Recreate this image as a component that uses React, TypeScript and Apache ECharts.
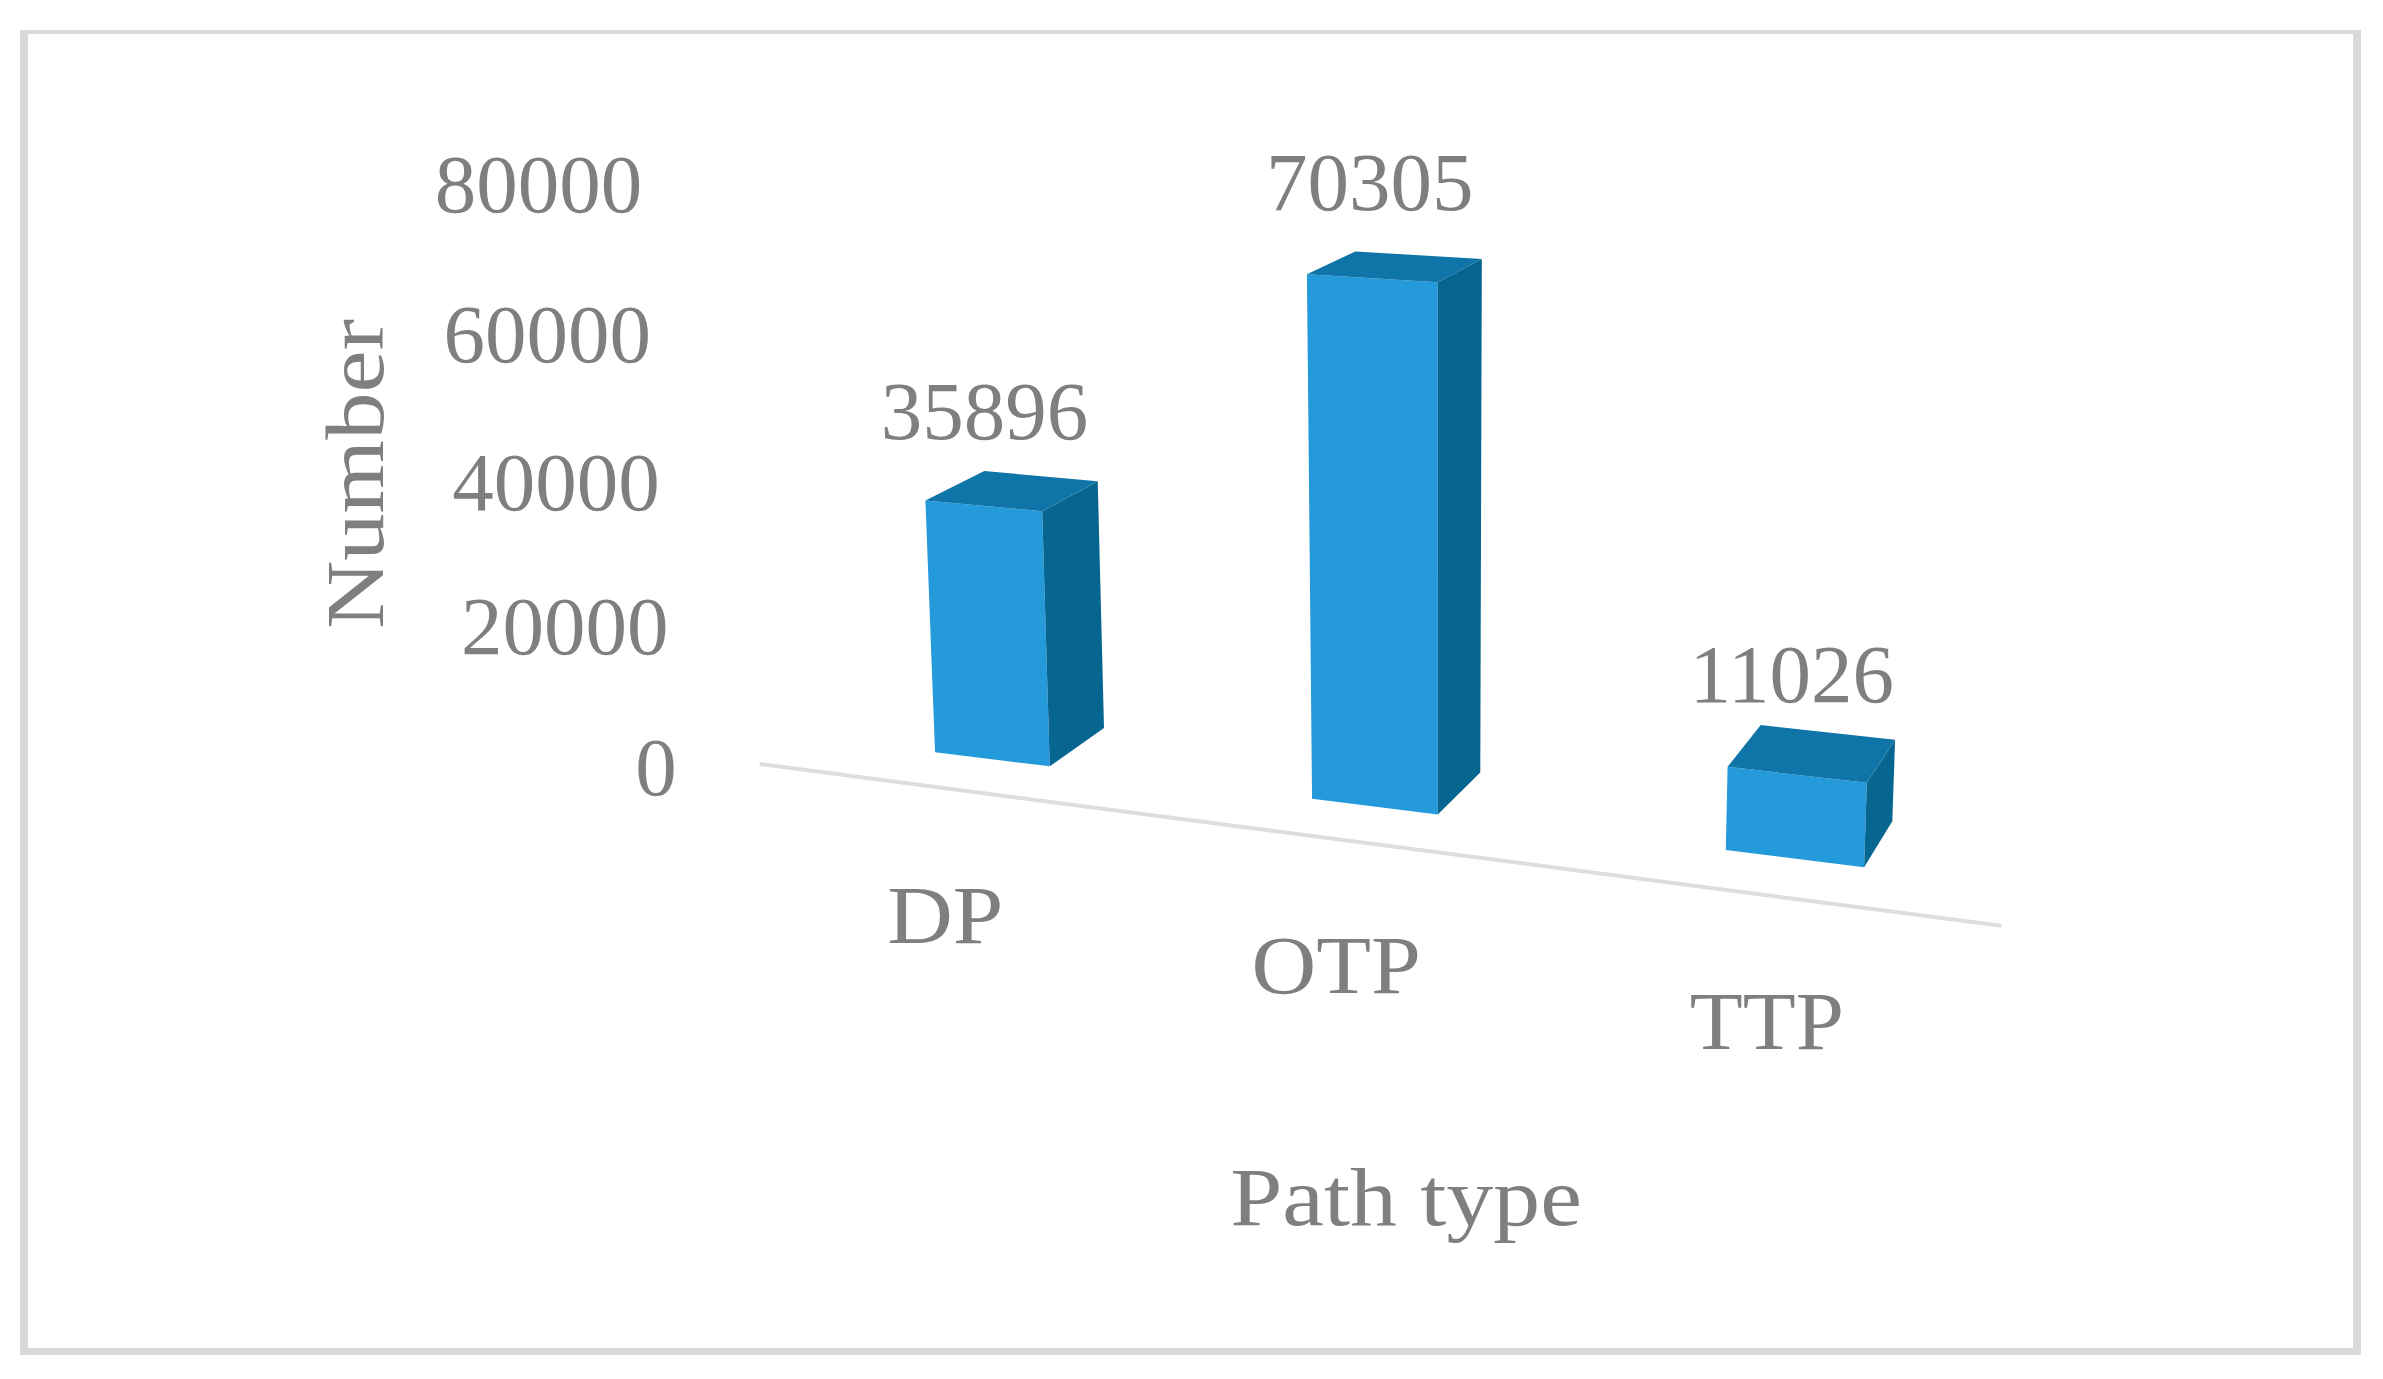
import React, { useEffect, useRef } from "react";
import * as echarts from "echarts";

const categories = ["DP", "OTP", "TTP"];
const values = [35896, 70305, 11026];
const tickValues = [0, 20000, 40000, 60000, 80000];
const tickLabels = ["0", "20000", "40000", "60000", "80000"];
const yTitle = "Number";
const xTitle = "Path type";

const GRAY = "#7f7f7f";
const FONT = "'Liberation Serif', serif";
const FS = 83;
const FRONT = "#259ADB";
const SIDE = "#07668F";
const TOP = "#0F75A8";
const LINE = "#DEDEDE";
const BORDER = "#D9D9D9";

// 3D perspective projection: t = category position, v = value / axis max, z = depth
const project = (t: number, v: number, z: number): number[] => {
  const w = 1 - 0.04464 * t - 0.042 * v + 0.036 * z;
  return [
    (321.1 * t + 992 - 60.5 * v + 93.6 * z) / w,
    (11.34 * t + 759.2 - 586 * v - 12 * z) / w,
  ];
};
const HALF = 0.157;
const FLOOR_Z = -0.72;

const toModel = (api: any, cs: any, cat: number, value: number) => {
  const p = api.coord([cat, value]);
  const band = cs.width / categories.length;
  return { t: (p[0] - cs.x) / band - 0.5, v: (cs.y + cs.height - p[1]) / cs.height };
};

const textEl = (x: number, y: number, text: string, align = "center", scaleX = 1) => ({
  type: "text",
  x,
  y,
  scaleX,
  silent: true,
  style: { text, fill: GRAY, fontSize: FS, fontFamily: FONT, align, verticalAlign: "middle" },
});

const renderBar = (params: any, api: any) => {
  const cs = params.coordSys;
  const i = api.value(0);
  const val = api.value(1);
  const { t, v } = toModel(api, cs, i, val);
  const l = t - HALF;
  const r = t + HALF;
  const poly = (pts: number[][], fill: string) => ({
    type: "polygon",
    shape: { points: pts },
    style: { fill },
  });
  const labelAnchor = project(t, v, 0);
  const labelY = project(t, v, 1)[1] - 56 - 20 * v;
  const catAnchor = project(t, 0, FLOOR_Z);
  const catScale = [1.095, 1.08, 1.045][i];
  return {
    type: "group",
    children: [
      poly([project(l, 0, 0), project(r, 0, 0), project(r, v, 0), project(l, v, 0)], FRONT),
      poly([project(r, 0, 0), project(r, 0, 1), project(r, v, 1), project(r, v, 0)], SIDE),
      poly([project(l, v, 0), project(r, v, 0), project(r, v, 1), project(l, v, 1)], TOP),
      textEl(labelAnchor[0] + 1 - 3 * t, labelY, String(val)),
      textEl(catAnchor[0] - 4, catAnchor[1] + 127, categories[i], "center", catScale),
    ],
  };
};

const renderTick = (params: any, api: any) => {
  const cs = params.coordSys;
  const { v } = toModel(api, cs, 0, api.value(1));
  const p = project(-0.5, v, FLOOR_Z);
  return textEl(p[0] - 90 - 5 * v, p[1] + 2 - 3 * v, tickLabels[params.dataIndex], "right");
};

const renderFloor = () => {
  const a = project(-0.52, 0, FLOOR_Z);
  const b = project(2.5, 0, -0.77);
  return {
    type: "line",
    shape: { x1: a[0], y1: a[1], x2: b[0], y2: b[1] },
    style: { stroke: LINE, lineWidth: 4 },
  };
};

export default function App() {
  const ref = useRef<HTMLDivElement>(null);
  useEffect(() => {
    const chart = echarts.init(ref.current!, null, { renderer: "svg" });
    chart.setOption({
      animation: false,
      backgroundColor: "#ffffff",
      grid: { left: 760, right: 381, top: 184, bottom: 612 },
      xAxis: { type: "category", data: categories, show: false },
      yAxis: { type: "value", min: 0, max: 80000, interval: 20000, show: false },
      graphic: [
        { type: "rect", shape: { x: 20, y: 30, width: 2341, height: 4 }, style: { fill: BORDER } },
        { type: "rect", shape: { x: 20, y: 30, width: 8, height: 1325 }, style: { fill: BORDER } },
        { type: "rect", shape: { x: 2353, y: 30, width: 8, height: 1325 }, style: { fill: BORDER } },
        { type: "rect", shape: { x: 20, y: 1348, width: 2341, height: 7 }, style: { fill: BORDER } },
        {
          type: "text",
          x: 355,
          y: 474,
          rotation: Math.PI / 2,
          scaleX: 1.14,
          style: { text: yTitle, fill: GRAY, fontSize: FS, fontFamily: FONT, align: "center", verticalAlign: "middle" },
        },
        {
          type: "text",
          x: 1406,
          y: 1197,
          scaleX: 1.13,
          style: { text: xTitle, fill: GRAY, fontSize: FS, fontFamily: FONT, align: "center", verticalAlign: "middle" },
        },
      ],
      series: [
        { type: "custom", silent: true, clip: false, data: [[0, 0]], renderItem: renderFloor, z: 1 },
        {
          type: "custom",
          silent: true,
          clip: false,
          data: tickValues.map((v) => [0, v]),
          renderItem: renderTick,
          z: 2,
        },
        {
          type: "custom",
          silent: true,
          clip: false,
          data: values.map((v, i) => [i, v]),
          renderItem: renderBar,
          z: 3,
        },
      ],
    });
    return () => chart.dispose();
  }, []);
  return <div ref={ref} style={{ position: "absolute", left: 0, top: 0, width: 2383, height: 1379 }} />;
}
